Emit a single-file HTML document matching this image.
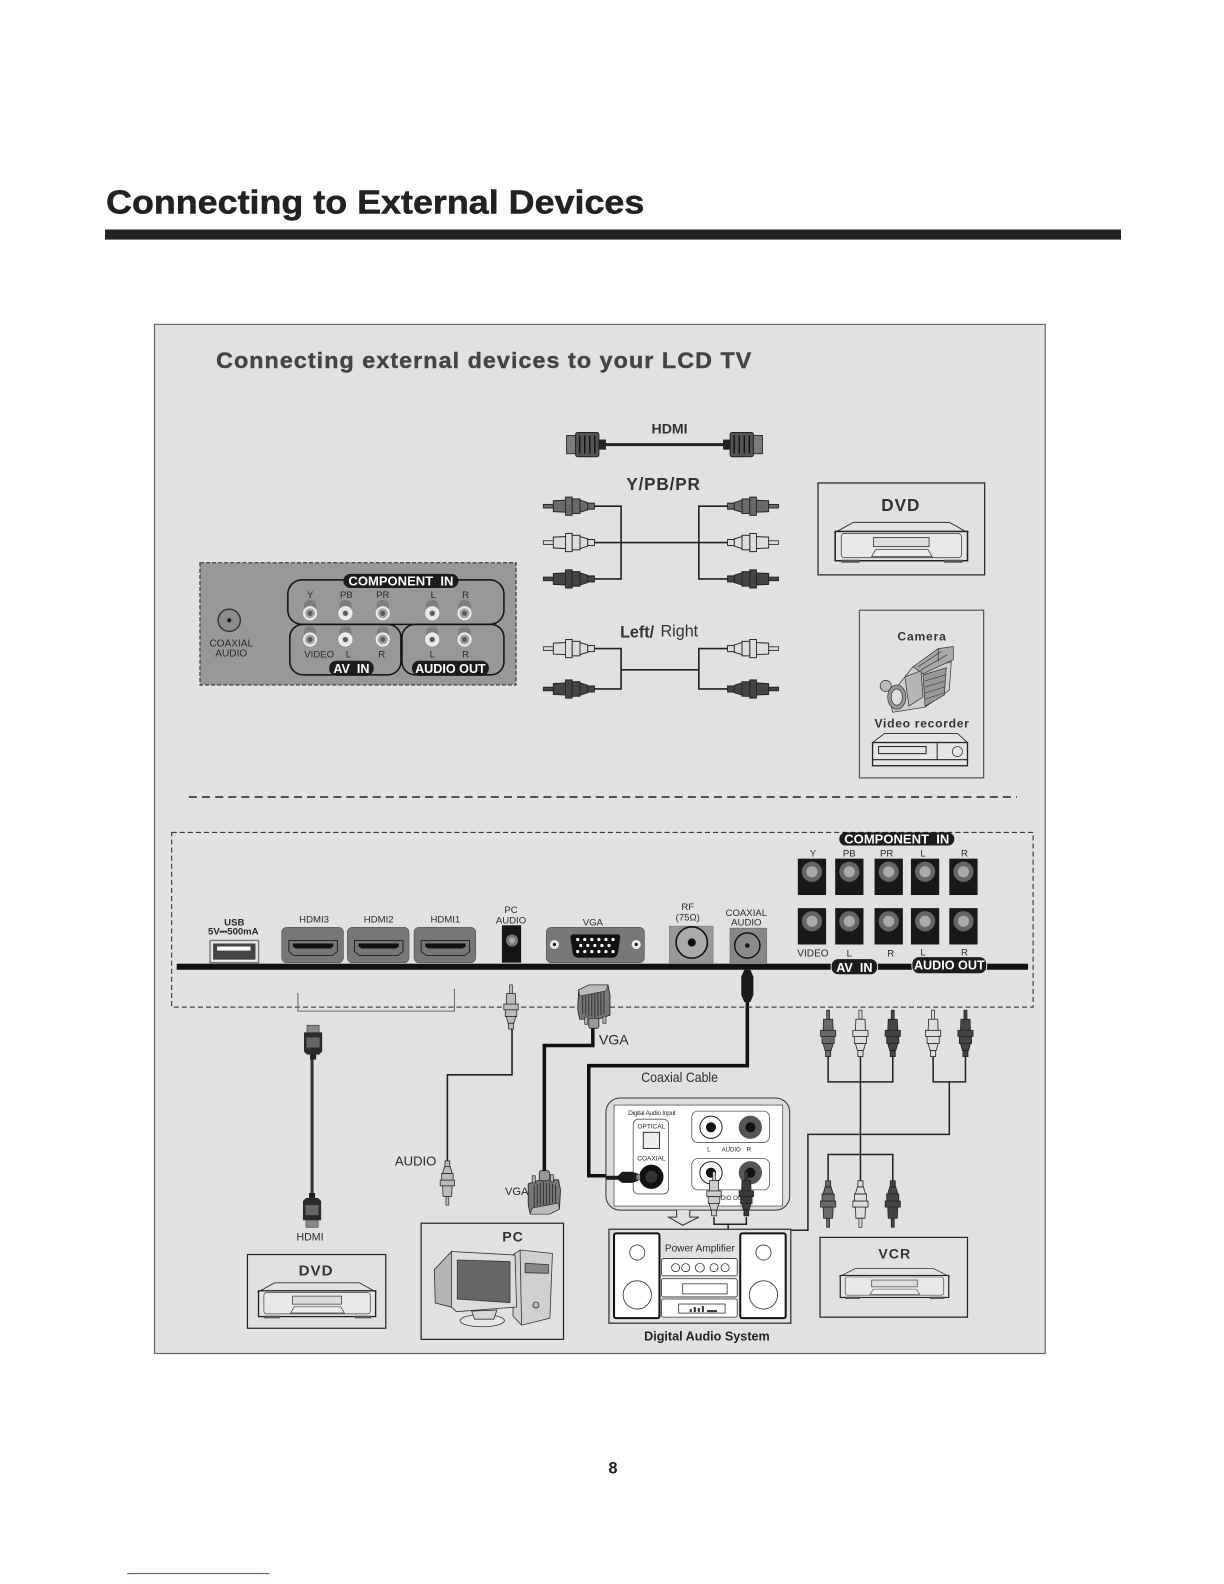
<!DOCTYPE html>
<html><head><meta charset="utf-8"><title>Connecting to External Devices</title>
<style>
html,body{margin:0;padding:0;background:#fff}
svg{display:block}
text{font-family:"Liberation Sans",sans-serif;fill:#2a2a2a}
.b{font-weight:bold}
.m{text-anchor:middle}
.w{fill:#fff;font-weight:bold;text-anchor:middle}
</style></head><body>
<svg xmlns="http://www.w3.org/2000/svg" width="1224" height="1584" viewBox="0 0 1212 1568">
<defs>
<g id="rca">
<rect x="-1.5" y="0" width="3" height="9" stroke="#222" stroke-width=".7" fill="currentColor"/>
<path d="M-4.5 9H4.5L5 21H-5Z" stroke="#222" stroke-width=".8" fill="currentColor"/>
<rect x="-7.5" y="20" width="15" height="6" stroke="#222" stroke-width=".8" fill="currentColor"/>
<rect x="-6" y="26" width="12" height="7" stroke="#222" stroke-width=".8" fill="currentColor"/>
<path d="M-5 33H5L3 40H-3Z" stroke="#222" stroke-width=".8" fill="currentColor"/>
<rect x="-2.5" y="40" width="5" height="6" stroke="#222" stroke-width=".8" fill="currentColor"/>
</g>
<g id="dvd">
<path d="M0 10L18 0H113L131 10Z" fill="#e2e2e2" stroke="#333" stroke-width="1"/>
<rect x="0" y="9" width="131" height="29" fill="#e6e6e6" stroke="#222" stroke-width="1.5"/>
<rect x="6" y="11" width="119" height="24" rx="3" fill="#e8e8e8" stroke="#444" stroke-width=".8"/>
<rect x="38" y="15" width="55" height="9" fill="#ddd" stroke="#444" stroke-width=".9"/>
<path d="M36 34L40 27H92L96 34Z" fill="#ededed" stroke="#444" stroke-width=".8"/>
<rect x="6" y="37" width="18" height="3" fill="#555"/><rect x="108" y="37" width="18" height="3" fill="#555"/>
</g>
<g id="hdmiH">
<rect x="0" y="3" width="11" height="18" fill="#7c7c7c" stroke="#333"/>
<rect x="9" y="0" width="23" height="24" rx="2" fill="#555" stroke="#222"/>
<path d="M13 3V21M18 3V21M23 3V21M28 3V21" stroke="#111" stroke-width="1.4"/>
<rect x="32" y="7" width="7" height="10" fill="#222"/>
</g>
<g id="hdmiV">
<rect x="-6" y="0" width="12" height="8" fill="#888" stroke="#444" stroke-width=".7"/>
<path d="M-9 7H9V26L6 29H-6L-9 26Z" fill="#2b2b2b"/>
<rect x="-6.5" y="12" width="13" height="10" fill="#666"/>
<rect x="-3" y="29" width="6" height="5" fill="#222"/>
</g>
<g id="vga">
<path d="M-15 5L-5 0H14L16 10V30L4 34H-14L-16 24Z" fill="#777" stroke="#222" stroke-width=".8"/>
<path d="M-15 5L-5 0H14L12 6L-14 11Z" fill="#bbb" stroke="#222" stroke-width=".6"/>
<path d="M-11 11V29M-8 11V30M-5 10V31M-2 9V31M1 9V32M4 8V31M7 8V30M10 7V29" stroke="#2a2a2a" stroke-width=".9"/>
<path d="M-9 32v7h3v-7zM9 31v7h3v-7z" fill="#bbb" stroke="#222" stroke-width=".7"/>
<rect x="-5" y="33" width="10" height="10" rx="2" fill="#999" stroke="#222" stroke-width=".8"/>
</g>
<g id="jack">
<rect x="0" y="0" width="28" height="36" fill="#181818"/>
<circle cx="14" cy="13" r="10" fill="#666"/><circle cx="14" cy="13" r="5.5" fill="#aaa"/>
</g>
<g id="sock">
<rect x="-6" y="-13" width="12" height="12" rx="5" fill="#7e7e7e"/>
<circle r="7" fill="#eee"/><circle r="5" fill="#a5a5a5"/><circle r="2.6" fill="#5c5c5c"/>
</g>
<g id="sockw">
<rect x="-6" y="-13" width="12" height="12" rx="5" fill="#7e7e7e"/>
<circle r="7" fill="#eee"/><circle r="5" fill="#e4e4e4"/><circle r="2.6" fill="#5c5c5c"/>
</g>
<g id="hport">
<rect x="0" y="0" width="61" height="35" rx="5" fill="#777" stroke="#555" stroke-width=".7"/>
<path d="M7 13H55V24L50 28H12L7 24Z" fill="none" stroke="#1a1a1a" stroke-width=".9"/>
<path d="M11 16H51V19L48 21H14L11 19Z" fill="#111"/>
</g>
</defs>

<rect width="1212" height="1568" fill="#fff"/>
<text x="105" y="211" font-size="33" class="b" textLength="533" lengthAdjust="spacingAndGlyphs" stroke="#222" stroke-width=".5" style="fill:#222">Connecting to External Devices</text>
<rect x="104" y="227" width="1006" height="10" fill="#222"/>

<rect x="153" y="321" width="882" height="1019" fill="#e1e1e1" stroke="#666" stroke-width="1.2"/>
<text x="214" y="364" font-size="22" class="b" letter-spacing="1" textLength="531" lengthAdjust="spacingAndGlyphs" stroke="#444" stroke-width=".4" style="fill:#444">Connecting external devices to your LCD TV</text>

<!-- HDMI cable -->
<text x="663" y="429" font-size="14" class="b m" style="fill:#333">HDMI</text>
<line x1="595" y1="440" x2="720" y2="440" stroke="#222" stroke-width="3"/>
<use href="#hdmiH" transform="translate(561,428)"/>
<use href="#hdmiH" transform="translate(755,428) scale(-1,1)"/>

<text x="657" y="485" font-size="17" class="b m" letter-spacing=".8" style="fill:#333">Y/PB/PR</text>
<g fill="none" stroke="#222" stroke-width="1.6">
<path d="M585 501H615V573H585M585 537H722M722 501H692V573H722"/>
<path d="M585 642H615V682H585M615 663H692M722 642H692V682H722"/>
</g>
<g>
<use href="#rca" color="#6a6a6a" transform="translate(538,501) rotate(-90) scale(1.2,1.1)"/>
<use href="#rca" color="#ddd" transform="translate(538,537) rotate(-90) scale(1.2,1.1)"/>
<use href="#rca" color="#444" transform="translate(538,573) rotate(-90) scale(1.2,1.1)"/>
<use href="#rca" color="#6a6a6a" transform="translate(771,501) rotate(90) scale(1.2,1.1)"/>
<use href="#rca" color="#ddd" transform="translate(771,537) rotate(90) scale(1.2,1.1)"/>
<use href="#rca" color="#444" transform="translate(771,573) rotate(90) scale(1.2,1.1)"/>
<use href="#rca" color="#ddd" transform="translate(538,642) rotate(-90) scale(1.2,1.1)"/>
<use href="#rca" color="#444" transform="translate(538,682) rotate(-90) scale(1.2,1.1)"/>
<use href="#rca" color="#ddd" transform="translate(771,642) rotate(90) scale(1.2,1.1)"/>
<use href="#rca" color="#444" transform="translate(771,682) rotate(90) scale(1.2,1.1)"/>
</g>
<text x="614" y="631" font-size="16" class="b" style="fill:#333">Left/</text>
<text x="654" y="630" font-size="16" style="fill:#333">Right</text>

<!-- Top DVD -->
<rect x="810" y="478" width="165" height="91" fill="none" stroke="#222" stroke-width="1.2"/>
<text x="892" y="506" font-size="17" class="b m" letter-spacing="1" style="fill:#333">DVD</text>
<use href="#dvd" transform="translate(827,517)"/>

<!-- Camera box -->
<rect x="851" y="604" width="123" height="166" fill="none" stroke="#555" stroke-width="1.2"/>
<text x="913" y="634" font-size="12" class="b m" letter-spacing=".8" style="fill:#333">Camera</text>
<g stroke="#333" stroke-width=".7">
<path d="M896 670L904 660L912 663L942 655L940 683L916 700L884 705L880 690Z" fill="#cfcfcf"/>
<path d="M904 660L929 642L944 640L944 653L914 667Z" fill="#a8a8a8"/>
<path d="M909 660L932 645M912 663L938 648M929 642V655" fill="none" stroke="#333"/>
<path d="M914 668L937 661L935 688L916 699Z" fill="#999"/>
<path d="M916 674L936 668M916 680L936 674M916 686L935 680M916 692L935 686" fill="none" stroke="#444"/>
<path d="M896 670L912 664L914 690L900 699Z" fill="#b5b5b5"/>
<circle cx="877" cy="679" r="5.5" fill="#bbb"/>
<ellipse cx="888" cy="690" rx="9" ry="12" fill="#999"/>
<ellipse cx="888" cy="690" rx="5.5" ry="8" fill="#ddd"/>
</g>
<text x="913" y="720" font-size="12" class="b m" letter-spacing=".7" style="fill:#333">Video recorder</text>
<g stroke="#222" fill="#e6e6e6">
<path d="M864 735L876 726H948L958 735Z" stroke-width=".8"/>
<rect x="864" y="735" width="94" height="23" stroke-width="1.3"/>
<rect x="870" y="739" width="47" height="7" stroke-width="1"/>
<line x1="928" y1="735" x2="928" y2="752"/>
<line x1="864" y1="752" x2="958" y2="752"/>
<circle cx="948" cy="744" r="5" stroke-width=".7"/>
</g>

<!-- Gray connector panel -->
<rect x="198" y="557" width="313" height="121" fill="#989898" stroke="#222" stroke-width="1" stroke-dasharray="4 2"/>
<circle cx="227" cy="614" r="11" fill="#8c8c8c" stroke="#333" stroke-width="1.4"/><circle cx="227" cy="614" r="2" fill="#111"/>
<text x="229" y="640" font-size="10" class="m">COAXIAL</text><text x="229" y="650" font-size="10" class="m">AUDIO</text>
<g fill="none" stroke="#111" stroke-width="1.5">
<rect x="285" y="574" width="214" height="44" rx="14"/>
<rect x="287" y="618" width="110" height="50" rx="13"/>
<rect x="398" y="618" width="101" height="50" rx="13"/>
</g>
<g font-size="9.5" class="m">
<text x="307" y="592" class="m">Y</text><text x="343" y="592" class="m">PB</text><text x="379" y="592" class="m">PR</text><text x="429" y="592" class="m">L</text><text x="461" y="592" class="m">R</text>
<text x="316" y="651" class="m">VIDEO</text><text x="345" y="651" class="m">L</text><text x="378" y="651" class="m">R</text><text x="428" y="651" class="m">L</text><text x="461" y="651" class="m">R</text>
</g>
<use href="#sock" x="307" y="607"/><use href="#sockw" x="342" y="607"/><use href="#sock" x="379" y="607"/><use href="#sockw" x="428" y="607"/><use href="#sock" x="460" y="607"/>
<use href="#sock" x="307" y="633"/><use href="#sockw" x="342" y="633"/><use href="#sock" x="379" y="633"/><use href="#sockw" x="428" y="633"/><use href="#sock" x="460" y="633"/>
<rect x="340" y="568" width="114" height="14" rx="7" fill="#1c1c1c"/><text x="397" y="579.5" font-size="12.5" class="w" textLength="104" lengthAdjust="spacingAndGlyphs">COMPONENT&#160;&#160;IN</text>
<rect x="326" y="654" width="44" height="15" rx="7" fill="#1c1c1c"/><text x="348" y="666" font-size="12.5" class="w">AV&#160;&#160;IN</text>
<rect x="408" y="654" width="76" height="15" rx="7" fill="#1c1c1c"/><text x="446" y="666" font-size="12.5" class="w" textLength="70" lengthAdjust="spacingAndGlyphs">AUDIO OUT</text>

<line x1="187" y1="789" x2="1007" y2="789" stroke="#222" stroke-width="1.5" stroke-dasharray="8 5"/>

<!-- Lower dashed box -->
<rect x="170" y="824" width="853" height="173" fill="none" stroke="#222" stroke-width="1" stroke-dasharray="5 3"/>
<rect x="175" y="954" width="843" height="6" fill="#111"/>

<!-- USB -->
<text x="232" y="916" font-size="9.5" class="b m">USB</text>
<text x="231" y="925" font-size="9.5" class="b m" textLength="50" lengthAdjust="spacingAndGlyphs">5V⎓500mA</text>
<rect x="208" y="931" width="48" height="22" fill="#e8e8e8" stroke="#777" stroke-width="1.4"/>
<rect x="211" y="934" width="42" height="16" fill="#444"/>
<rect x="215" y="937" width="33" height="4" fill="#fff"/>

<text x="311" y="913" font-size="9.5" class="m">HDMI3</text><text x="375" y="913" font-size="9.5" class="m">HDMI2</text><text x="441" y="913" font-size="9.5" class="m">HDMI1</text>
<use href="#hport" x="279" y="918"/><use href="#hport" x="344" y="918"/><use href="#hport" x="410" y="918"/>

<text x="506" y="904" font-size="9.5" class="m">PC</text><text x="506" y="914" font-size="9.5" class="m">AUDIO</text>
<rect x="497" y="916" width="19" height="37" fill="#151515"/>
<circle cx="507" cy="931" r="6" fill="#777"/><circle cx="507" cy="931" r="3" fill="#aaa"/>

<text x="587" y="916" font-size="9.5" class="m">VGA</text>
<rect x="541" y="918" width="97" height="35" rx="5" fill="#777" stroke="#555" stroke-width=".7"/>
<circle cx="549" cy="935" r="4.5" fill="#eee"/><circle cx="549" cy="935" r="1.6" fill="#111"/>
<circle cx="630" cy="935" r="4.5" fill="#eee"/><circle cx="630" cy="935" r="1.6" fill="#111"/>
<path d="M568 925H611Q615 925 614 929L612 943Q611 948 606 948H573Q568 948 567 943L565 929Q564 925 568 925Z" fill="#111"/>
<g fill="#fff"><circle cx="572" cy="930" r="1.6"/><circle cx="579" cy="930" r="1.6"/><circle cx="586" cy="930" r="1.6"/><circle cx="593" cy="930" r="1.6"/><circle cx="600" cy="930" r="1.6"/><circle cx="607" cy="930" r="1.6"/>
<circle cx="575" cy="936" r="1.6"/><circle cx="582" cy="936" r="1.6"/><circle cx="589" cy="936" r="1.6"/><circle cx="596" cy="936" r="1.6"/><circle cx="603" cy="936" r="1.6"/>
<circle cx="572" cy="942" r="1.6"/><circle cx="579" cy="942" r="1.6"/><circle cx="586" cy="942" r="1.6"/><circle cx="593" cy="942" r="1.6"/><circle cx="600" cy="942" r="1.6"/><circle cx="607" cy="942" r="1.6"/></g>

<text x="681" y="901" font-size="9.5" class="m">RF</text><text x="681" y="911" font-size="9.5" class="m">(75Ω)</text>
<rect x="663" y="917" width="43" height="36" fill="#999" stroke="#888"/>
<circle cx="685" cy="933" r="15.5" fill="#aaa" stroke="#111" stroke-width="1.6"/><circle cx="685" cy="933" r="4" fill="#111"/>
<text x="739" y="907" font-size="9.5" class="m">COAXIAL</text><text x="739" y="916" font-size="9.5" class="m">AUDIO</text>
<rect x="723" y="919" width="36" height="34" fill="#888" stroke="#777"/>
<circle cx="740" cy="936" r="12.5" fill="#8a8a8a" stroke="#111" stroke-width="1.4"/><circle cx="740" cy="936" r="2.2" fill="#111"/>

<!-- Component jacks -->
<rect x="831" y="824" width="114" height="13" rx="6.5" fill="#1c1c1c"/><text x="888" y="835" font-size="12.5" class="w" textLength="104" lengthAdjust="spacingAndGlyphs">COMPONENT&#160;&#160;IN</text>
<g font-size="9.5"><text x="805" y="848" class="m">Y</text><text x="841" y="848" class="m">PB</text><text x="878" y="848" class="m">PR</text><text x="914" y="848" class="m">L</text><text x="955" y="848" class="m">R</text>
<text x="805" y="947" class="m" font-size="10">VIDEO</text><text x="841" y="947" class="m">L</text><text x="882" y="947" class="m">R</text><text x="914" y="946" class="m">L</text><text x="955" y="946" class="m">R</text></g>
<use href="#jack" x="790" y="850"/><use href="#jack" x="827" y="850"/><use href="#jack" x="866" y="850"/><use href="#jack" x="902" y="850"/><use href="#jack" x="940" y="850"/>
<use href="#jack" x="790" y="899"/><use href="#jack" x="827" y="899"/><use href="#jack" x="866" y="899"/><use href="#jack" x="902" y="899"/><use href="#jack" x="940" y="899"/>
<rect x="823" y="949" width="46" height="16" rx="7" fill="#1c1c1c" stroke="#e1e1e1"/><text x="846" y="962" font-size="12.5" class="w">AV&#160;&#160;IN</text>
<rect x="903" y="947" width="74" height="17" rx="7" fill="#1c1c1c" stroke="#e1e1e1"/><text x="940" y="960" font-size="12.5" class="w" textLength="70" lengthAdjust="spacingAndGlyphs">AUDIO OUT</text>

<!-- HDMI bracket and cable -->
<path d="M295 983V1001H450V979" fill="none" stroke="#666" stroke-width="1"/>
<line x1="309" y1="1046" x2="309" y2="1186" stroke="#333" stroke-width="3"/>
<use href="#hdmiV" transform="translate(310,1015)"/>
<use href="#hdmiV" transform="translate(309,1215) scale(1,-1)"/>
<text x="307" y="1228" font-size="10.5" class="m">HDMI</text>
<rect x="245" y="1242" width="137" height="73" fill="none" stroke="#222" stroke-width="1.2"/>
<text x="313" y="1263" font-size="15" class="b m" letter-spacing="1" style="fill:#333">DVD</text>
<use href="#dvd" transform="translate(256,1270) scale(.885,.88)"/>

<!-- PC audio -->
<path d="M507 1016V1064H443V1152" fill="none" stroke="#222" stroke-width="1.6"/>
<use href="#rca" color="#bbb" transform="translate(506,975) scale(.95)"/>
<use href="#rca" color="#bbb" transform="translate(443,1193) rotate(180) scale(.95)"/>
<text x="391" y="1154" font-size="13">AUDIO</text>

<!-- VGA cable -->
<path d="M587 1015V1035H539V1165" fill="none" stroke="#111" stroke-width="3.5"/>
<use href="#vga" transform="translate(588,975)"/>
<use href="#vga" transform="translate(539,1202) rotate(180)"/>
<text x="593" y="1034" font-size="14">VGA</text>
<text x="500" y="1183" font-size="11">VGA</text>

<!-- PC -->
<rect x="417" y="1211" width="141" height="115" fill="none" stroke="#222" stroke-width="1.2"/>
<text x="508" y="1229" font-size="14" class="b m" letter-spacing="1" style="fill:#333">PC</text>
<g stroke="#333" stroke-width=".8">
<path d="M508 1242L515 1237.5L547 1241L544.5 1305L516.5 1312L508 1303Z" fill="#d0d0d0"/>
<path d="M515 1237.5L516.5 1312" fill="none"/>
<path d="M520 1250.7L543 1252V1260.6L520 1260Z" fill="#888"/>
<circle cx="530.7" cy="1292" r="3" fill="#bbb"/>
<ellipse cx="477.5" cy="1307.5" rx="22" ry="6" fill="#e6e6e6"/>
<path d="M467 1298L492 1297L489 1306H470Z" fill="#d8d8d8"/>
<path d="M447 1239L430 1257L431 1290L447 1294Z" fill="#b5b5b5"/>
<path d="M447 1239L510 1242.5L511.5 1294L452 1298.6L447 1294Z" fill="#dcdcdc"/>
<path d="M452.8 1247.4L505 1249V1289.6L452.8 1286Z" fill="#666"/>
</g>

<!-- Coax cable -->
<path d="M740 985V1055H583V1164H605" fill="none" stroke="#111" stroke-width="3.5"/>
<path d="M737 960H743L746 967V985L743 992H737L734 985V967Z" fill="#1a1a1a"/>
<text x="635" y="1071" font-size="13.5" textLength="76" lengthAdjust="spacingAndGlyphs">Coaxial Cable</text>

<!-- Wiring to VCR -->
<g fill="none" stroke="#222" stroke-width="1.5">
<path d="M820 1045V1071H884V1045M852 1045V1170M820 1170V1143H884V1170"/>
<path d="M924 1045V1071H956V1045M940 1071V1123H800V1218H721V1212"/>
</g>
<use href="#rca" color="#6a6a6a" transform="translate(820,1000)"/>
<use href="#rca" color="#ddd" transform="translate(852,1000)"/>
<use href="#rca" color="#444" transform="translate(884,1000)"/>
<use href="#rca" color="#ddd" transform="translate(924,1000)"/>
<use href="#rca" color="#444" transform="translate(956,1000)"/>
<use href="#rca" color="#6a6a6a" transform="translate(820,1215) rotate(180)"/>
<use href="#rca" color="#ddd" transform="translate(852,1215) rotate(180)"/>
<use href="#rca" color="#444" transform="translate(884,1215) rotate(180)"/>

<!-- VCR -->
<rect x="812" y="1225" width="146" height="79" fill="none" stroke="#222" stroke-width="1.2"/>
<text x="886" y="1246" font-size="14" class="b m" letter-spacing="1" style="fill:#333">VCR</text>
<use href="#dvd" transform="translate(832,1256) scale(.82,.75)"/>

<!-- Digital audio input panel -->
<rect x="600" y="1087" width="182" height="111" rx="14" fill="#dcdcdc" stroke="#333" stroke-width="1"/>
<rect x="608" y="1094" width="167" height="100" fill="#fff" stroke="#555" stroke-width=".8"/>
<text x="622" y="1104" font-size="6.5" textLength="47">Digital Audio Input</text>
<rect x="627" y="1108" width="35" height="74" rx="5" fill="#fff" stroke="#555" stroke-width=".8"/>
<text x="645" y="1117" font-size="6.5" class="m">OPTICAL</text>
<rect x="637" y="1121" width="16" height="16" fill="#eee" stroke="#333"/>
<text x="645" y="1149" font-size="6.5" class="m">COAXIAL</text>
<circle cx="645" cy="1165" r="12" fill="#111"/><circle cx="645" cy="1165" r="6" fill="#333"/>
<rect x="685" y="1100" width="77" height="31" rx="6" fill="#fff" stroke="#555" stroke-width=".8"/>
<circle cx="704" cy="1116" r="11" fill="#fff" stroke="#222"/><circle cx="704" cy="1116" r="5" fill="#111"/>
<circle cx="743" cy="1116" r="11.5" fill="#555"/><circle cx="743" cy="1116" r="5" fill="#111"/>
<text x="702" y="1140" font-size="6.5" class="m">L</text><text x="724" y="1140" font-size="6" class="m">AUDIO</text><text x="741.5" y="1140" font-size="6.5" class="m">R</text>
<rect x="685" y="1147" width="77" height="31" rx="6" fill="#fff" stroke="#555" stroke-width=".8"/>
<circle cx="704" cy="1161" r="11" fill="#fff" stroke="#222"/><circle cx="704" cy="1161" r="5" fill="#111"/>
<circle cx="743" cy="1161" r="11.5" fill="#555"/><circle cx="743" cy="1161" r="5" fill="#111"/>
<text x="722" y="1188" font-size="6" class="m">AUDIO OUT</text>

<!-- coax plug into panel -->
<path d="M600 1164H612L616 1160H626L632 1162V1169L626 1171H616L612 1168H600Z" fill="#1a1a1a"/>
<rect x="630" y="1163" width="4" height="5" fill="#888" stroke="#222" stroke-width=".5"/>

<!-- plugs into amp -->
<path d="M707 1205V1212H739V1205" fill="none" stroke="#222" stroke-width="1.5"/>
<use href="#rca" color="#ccc" transform="translate(707,1160) scale(.95)"/>
<use href="#rca" color="#3a3a3a" transform="translate(739,1160) scale(.95)"/>

<!-- Arrow -->
<path d="M670 1198V1205H662L676 1213L692 1205H683V1198" fill="#e1e1e1" stroke="#333" stroke-width="1"/>

<!-- Amp box -->
<rect x="603" y="1217" width="180" height="93" fill="#e1e1e1" stroke="#444" stroke-width="1.4"/>
<g fill="#fff" stroke="#111" stroke-width="2"><rect x="608" y="1221" width="45" height="84" rx="2"/><rect x="733" y="1221" width="45" height="84" rx="2"/></g>
<g fill="#fff" stroke="#333" stroke-width=".8">
<circle cx="631" cy="1240" r="7.5"/><circle cx="631" cy="1282" r="14"/>
<circle cx="756" cy="1240" r="7.5"/><circle cx="756" cy="1282" r="14"/>
<rect x="655" y="1246" width="75" height="17" rx="2"/><rect x="655" y="1266" width="75" height="18" rx="2"/><rect x="655" y="1286" width="75" height="18" rx="2"/>
<circle cx="669" cy="1255" r="4"/><circle cx="679" cy="1255" r="4"/><circle cx="693" cy="1255" r="4.4"/><circle cx="707" cy="1255" r="4"/><circle cx="718" cy="1255" r="4"/>
<rect x="676" y="1271" width="44" height="10"/>
<rect x="672" y="1291" width="46" height="9"/>
</g>
<path d="M683 1299v-3h2v3zM687 1299v-5h2v5zM691 1299v-4h2v4zM695 1299v-6h2v6zM700 1299v-2h10v2z" fill="#333"/>
<text x="693" y="1239" font-size="10" class="m">Power Amplifier</text>
<text x="700" y="1327" font-size="12.5" class="b m" style="fill:#222">Digital Audio System</text>

<text x="607" y="1459" font-size="16" class="b m" style="fill:#222">8</text>
<line x1="126" y1="1558" x2="267" y2="1558" stroke="#3a55b8" stroke-width="1"/>
</svg>
</body></html>
